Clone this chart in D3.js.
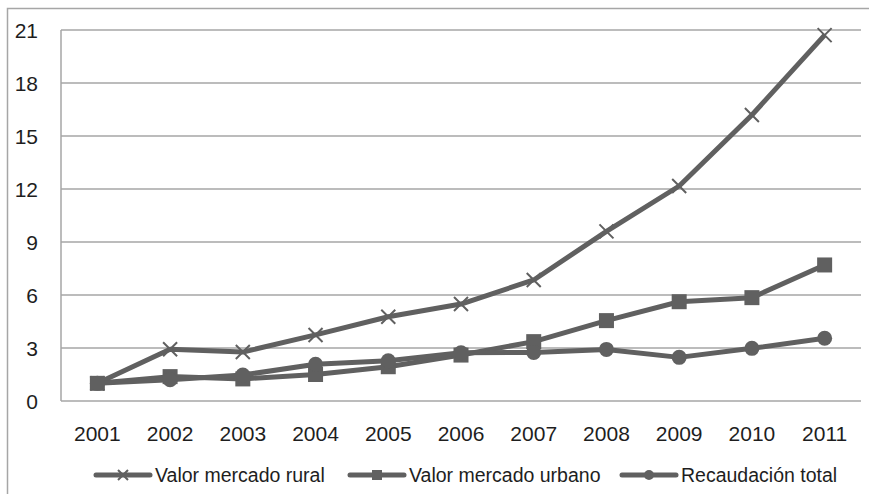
<!DOCTYPE html>
<html>
  <head>
    <meta charset="utf-8">
    <title>Valor mercado y recaudación</title>
    <script src="https://cdn.jsdelivr.net/npm/d3@7"></script>
    <style>
      body { margin: 0; background: #fff; }
      .grid line { stroke: #a6a6a6; stroke-width: 1.5px; }
      .tick_label { font-family: 'Liberation Sans', Arial, sans-serif; font-size: 21px; fill: #1e1e1e; }
      .legend_text { font-family: 'Liberation Sans', Arial, sans-serif; font-size: 19.5px; fill: #1e1e1e; }
      .series_line { fill: none; stroke: #606060; stroke-width: 5px; stroke-linejoin: round; }
    </style>
  </head>
  <body>
    <script>

      // data
      var years = ['2001', '2002', '2003', '2004', '2005', '2006', '2007', '2008', '2009', '2010', '2011'];
      var rural  = [1.0, 2.93, 2.77, 3.74, 4.77, 5.49, 6.85, 9.6, 12.17, 16.19, 20.71];
      var urbano = [1.0, 1.38, 1.25, 1.5, 1.94, 2.6, 3.36, 4.55, 5.62, 5.85, 7.7];
      var total  = [1.0, 1.2, 1.47, 2.08, 2.28, 2.73, 2.75, 2.92, 2.47, 2.98, 3.55];
      var yTicks = [0, 3, 6, 9, 12, 15, 18, 21];
      var seriesNames = ['Valor mercado rural', 'Valor mercado urbano', 'Recaudación total'];

      var width = 869, height = 494;
      var plot = { left: 61, right: 861, top: 30, bottom: 401 };
      var grey = '#606060';

      var svg = d3.select('body').append('svg')
        .attr('width', width)
        .attr('height', height);

      // outer chart frame (runs past the right/bottom edge)
      svg.append('rect')
        .attr('x', 7.5).attr('y', 8.5)
        .attr('width', 900).attr('height', 520)
        .attr('fill', 'none')
        .attr('stroke', '#a6a6a6')
        .attr('stroke-width', 1.5);

      var xScale = d3.scaleBand()
        .domain(years)
        .range([plot.left, plot.right]);

      var yScale = d3.scaleLinear()
        .domain([0, 21])
        .range([plot.bottom, plot.top]);

      function cx(i) { return xScale(years[i]) + xScale.bandwidth() / 2; }

      // gridlines
      svg.append('g').attr('class', 'grid')
        .selectAll('line')
        .data(yTicks)
        .enter()
        .append('line')
        .attr('x1', plot.left).attr('x2', plot.right)
        .attr('y1', function(d) { return yScale(d); })
        .attr('y2', function(d) { return yScale(d); });

      // left axis line
      svg.append('line')
        .attr('x1', plot.left).attr('x2', plot.left)
        .attr('y1', plot.top).attr('y2', plot.bottom)
        .attr('stroke', '#a6a6a6').attr('stroke-width', 1.5);

      // y labels
      svg.selectAll('.ylab')
        .data(yTicks)
        .enter()
        .append('text')
        .attr('class', 'tick_label')
        .attr('text-anchor', 'end')
        .attr('x', 38)
        .attr('y', function(d) { return yScale(d) + 7.5; })
        .text(function(d) { return d; });

      // x labels
      svg.selectAll('.xlab')
        .data(years)
        .enter()
        .append('text')
        .attr('class', 'tick_label')
        .attr('text-anchor', 'middle')
        .attr('x', function(d, i) { return cx(i); })
        .attr('y', 441)
        .text(function(d) { return d; });

      var line = d3.line()
        .x(function(d, i) { return cx(i); })
        .y(function(d) { return yScale(d); });

      // kind: 0 cross, 1 square, 2 circle; r = half size
      function drawMarker(g, kind, r) {
        if (kind == 0) {
          g.append('path')
            .attr('d', 'M' + (-r) + ',' + (-r) + 'L' + r + ',' + r + 'M' + (-r) + ',' + r + 'L' + r + ',' + (-r))
            .attr('stroke', grey).attr('stroke-width', 2).attr('fill', 'none');
        } else if (kind == 1) {
          g.append('rect').attr('x', -r).attr('y', -r)
            .attr('width', 2 * r).attr('height', 2 * r).attr('fill', grey);
        } else {
          g.append('circle').attr('r', r).attr('fill', grey);
        }
      }

      var allSeries = [rural, urbano, total];

      allSeries.forEach(function(values, s) {
        svg.append('path')
          .datum(values)
          .attr('class', 'series_line')
          .attr('d', line);

        svg.selectAll('.m' + s)
          .data(values)
          .enter()
          .append('g')
          .attr('class', 'm' + s)
          .attr('transform', function(d, i) {
            return 'translate(' + cx(i) + ',' + yScale(d) + ')';
          })
          .each(function() { drawMarker(d3.select(this), s, s == 0 ? 7 : 7.5); });
      });

      // legend
      var legendX = [96, 350, 622];
      var legendY = 475;
      seriesNames.forEach(function(name, s) {
        var lg = svg.append('g').attr('transform', 'translate(' + legendX[s] + ',' + legendY + ')');
        lg.append('line')
          .attr('x1', 0).attr('x2', 54)
          .attr('y1', 0).attr('y2', 0)
          .attr('stroke', grey).attr('stroke-width', 5)
          .attr('stroke-linecap', 'round');
        drawMarker(lg.append('g').attr('transform', 'translate(27,0)'), s, 5);
        lg.append('text')
          .attr('class', 'legend_text')
          .attr('x', 59)
          .attr('y', 7)
          .text(name);
      });

    </script>
  </body>
</html>
